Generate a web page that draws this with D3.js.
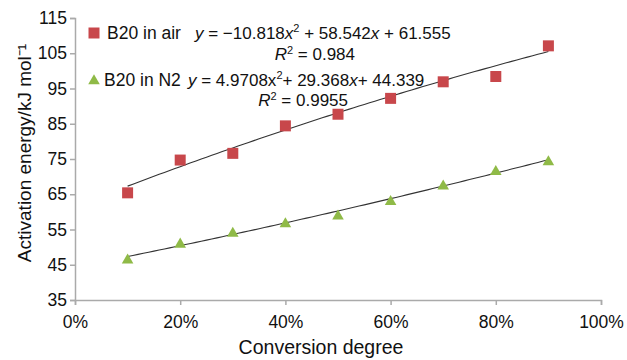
<!DOCTYPE html>
<html>
<head>
<meta charset="utf-8">
<script src="https://cdn.jsdelivr.net/npm/d3@7"></script>
<style>
  body { margin: 0; background: #fff; }
  text { font-family: "Liberation Sans", Arial, sans-serif; fill: #111; }
</style>
</head>
<body>
<svg id="chart" width="627" height="360"></svg>
<script>
(function() {

	// DATA
	var conversion = [0.1, 0.2, 0.3, 0.4, 0.5, 0.6, 0.7, 0.8, 0.9];
	var airValues = [65.4, 74.7, 76.6, 84.4, 87.7, 92.2, 96.9, 98.4, 107.1];
	var n2Values = [46.3, 50.8, 53.9, 56.6, 58.8, 62.9, 67.3, 71.4, 74.2];
	// fit coefficients printed on the chart: a*x^2 + b*x + c
	var airFit = [-10.818, 58.542, 61.555];
	var n2Fit = [4.9708, 29.368, 44.339];
	var yTicks = [35, 45, 55, 65, 75, 85, 95, 105, 115];
	var xTicks = [0, 0.2, 0.4, 0.6, 0.8, 1.0];

	var margin = { top: 18, bottom: 60, left: 75, right: 26 };
	var width = 627 - margin.left - margin.right;
	var height = 360 - margin.top - margin.bottom;
	var axisColor = '#aaa';
	var red = '#c8474b';
	var green = '#8fba47';
	var fs = '17.5px';
	var fsEq = '17px';

	var svg = d3.select('#chart');
	var g = svg.append('g')
		.attr('transform', 'translate(' + margin.left + ',' + margin.top + ')');

	var x = d3.scaleLinear().domain([0, 1]).range([0, width]);
	var y = d3.scaleLinear().domain([35, 115]).range([height, 0]);

	// axes
	var axisY = d3.axisLeft(y).tickValues(yTicks).tickSize(5).tickPadding(3);
	var gy = g.append('g').call(axisY);
	var axisX = d3.axisBottom(x).tickValues(xTicks).tickSize(5).tickPadding(11)
		.tickFormat(d3.format('.0%'));
	var gx = g.append('g').attr('transform', 'translate(0,' + height + ')').call(axisX);

	[gx, gy].forEach(function(ax) {
		ax.select('.domain').attr('stroke', axisColor).attr('stroke-width', 1.5);
		ax.selectAll('.tick line').attr('stroke', axisColor).attr('stroke-width', 1.5);
		ax.selectAll('.tick text')
			.style('font-family', '"Liberation Sans", Arial, sans-serif')
			.style('font-size', fs)
			.attr('fill', '#111');
	});

	// trend lines
	function fitPoints(coef) {
		var x0 = conversion[0], x1 = conversion[conversion.length - 1];
		return d3.range(0, 81).map(function(i) {
			var xv = x0 + i * (x1 - x0) / 80;
			return [xv, coef[0] * xv * xv + coef[1] * xv + coef[2]];
		});
	}
	var line = d3.line()
		.x(function(d) { return x(d[0]); })
		.y(function(d) { return y(d[1]); });

	[airFit, n2Fit].forEach(function(coef) {
		g.append('path')
			.attr('d', line(fitPoints(coef)))
			.attr('fill', 'none')
			.attr('stroke', '#333')
			.attr('stroke-width', 1.1);
	});

	// markers
	var square = d3.symbol().type(d3.symbolSquare).size(121);
	var triangle = d3.symbol().type(d3.symbolTriangle).size(58);

	g.selectAll('.air').data(conversion).enter().append('path')
		.attr('class', 'air')
		.attr('d', square)
		.attr('fill', red)
		.attr('transform', function(d, i) { return 'translate(' + x(d) + ',' + y(airValues[i]) + ')'; });

	g.selectAll('.n2').data(conversion).enter().append('path')
		.attr('class', 'n2')
		.attr('d', triangle)
		.attr('fill', green)
		.attr('transform', function(d, i) { return 'translate(' + x(d) + ',' + y(n2Values[i]) + ')'; });

	// legend + equations
	svg.append('path').attr('d', square).attr('fill', red)
		.attr('transform', 'translate(94,33)');
	svg.append('text').attr('x', 107).attr('y', 39).style('font-size', fs).text('B20 in air');
	svg.append('path').attr('d', triangle).attr('fill', green)
		.attr('transform', 'translate(94,81)');
	svg.append('text').attr('x', 104).attr('y', 86).style('font-size', fs).text('B20 in N2');

	var eq1 = svg.append('text').attr('x', 195).attr('y', 39).style('font-size', fsEq);
	eq1.append('tspan').style('font-style', 'italic').text('y');
	eq1.append('tspan').text(' = \u221210.818');
	eq1.append('tspan').style('font-style', 'italic').text('x');
	eq1.append('tspan').attr('dy', -7).style('font-size', '11px').text('2');
	eq1.append('tspan').attr('dy', 7).text(' + 58.542');
	eq1.append('tspan').style('font-style', 'italic').text('x');
	eq1.append('tspan').text(' + 61.555');

	var r1 = svg.append('text').attr('x', 355).attr('y', 60).attr('text-anchor', 'end').style('font-size', fsEq);
	r1.append('tspan').style('font-style', 'italic').text('R');
	r1.append('tspan').attr('dy', -6).style('font-size', '11px').text('2');
	r1.append('tspan').attr('dy', 6).text(' = 0.984');

	var eq2 = svg.append('text').attr('x', 188).attr('y', 86).style('font-size', fsEq);
	eq2.append('tspan').style('font-style', 'italic').text('y');
	eq2.append('tspan').text(' = 4.9708x');
	eq2.append('tspan').attr('dy', -7).style('font-size', '11px').text('2');
	eq2.append('tspan').attr('dy', 7).text('+ 29.368');
	eq2.append('tspan').style('font-style', 'italic').text('x');
	eq2.append('tspan').text('+ 44.339');

	var r2 = svg.append('text').attr('x', 348).attr('y', 106).attr('text-anchor', 'end').style('font-size', fsEq);
	r2.append('tspan').style('font-style', 'italic').text('R');
	r2.append('tspan').attr('dy', -6).style('font-size', '11px').text('2');
	r2.append('tspan').attr('dy', 6).text(' = 0.9955');

	// axis titles
	svg.append('text')
		.attr('transform', 'translate(31,153)rotate(-90)')
		.attr('text-anchor', 'middle')
		.style('font-size', '19px')
		.text('Activation energy/kJ mol\u207B\u00B9');

	svg.append('text')
		.attr('x', 321)
		.attr('y', 354)
		.attr('text-anchor', 'middle')
		.style('font-size', '19.5px')
		.text('Conversion degree');
})();
</script>
</body>
</html>
